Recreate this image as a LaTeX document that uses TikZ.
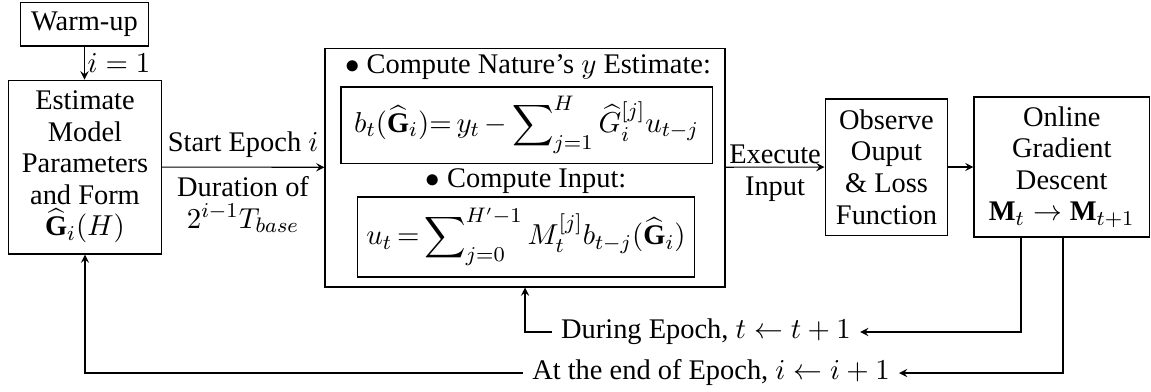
\documentclass[tikz,border=0pt]{standalone}
\usepackage{fontspec}
\setmainfont{Liberation Serif}
\usepackage{amsmath}
\usetikzlibrary{arrows}
\usetikzlibrary{positioning}
\usetikzlibrary{calc}
\tikzstyle{block}=[draw,align=center,inner sep=2pt]
\tikzstyle{edge} = [draw,->]
\tikzstyle{textlabel} = [align=center]

\begin{document}
\begin{tikzpicture}[x=0.38pt,y=-0.38pt,>=stealth,font=\fontsize{10.8pt}{12pt}\selectfont]
    \useasboundingbox (0,0) rectangle (1151,391);
    % main blocks
    \foreach \pos/\name/\bw/\bh/\txt in { {(84.5,24)/warm/48.3pt/16.7pt/{Warm-up}},
        {(85,167)/est/57.8pt/66.1pt/{Estimate\\Model\\Parameters\\and Form\\$\widehat{\mathbf{G}}_i(H)$}},
        {(886.5,167)/obs/46.7pt/51.7pt/{Observe\\Ouput\\\& Loss\\Function}},
        {(1061.75,167)/ogd/66.7pt/53.2pt/{Online\\Gradient\\Descent\\$\mathbf{M}_t\rightarrow\mathbf{M}_{t+1}$}}}
        \node[block,minimum width=\bw,minimum height=\bh] (\name) at \pos {\txt};

    % control block
    \node[block,minimum width=152pt,minimum height=90.8pt] (ctrl) at (525,167.5) {};
    \node[textlabel] (natlbl) at (528,67.5) {$\bullet$ Compute Nature's $y$ Estimate:};
    \node[block,minimum width=141pt,minimum height=28.9pt] (best) at (526.5,125)
        {$b_t(\widehat{\mathbf{G}}_i){=}\,y_t\,{-}\displaystyle\sum\nolimits_{j=1}^{H}\widehat{G}_i^{[j]}u_{t-j}$};
    \node[textlabel] (inlbl) at (526,181) {$\bullet$ Compute Input:};
    \node[block,minimum width=128.4pt,minimum height=30.4pt] (uin) at (526,237)
        {$u_t\,{=}\displaystyle\sum\nolimits_{j=0}^{H'-1}M_t^{[j]}b_{t-j}(\widehat{\mathbf{G}}_i)$};

    % feedback labels
    \node[textlabel] (during) at (706,332) {During Epoch, $t\leftarrow t+1$};
    \node[textlabel] (epochend) at (711,373) {At the end of Epoch, $i\leftarrow i+1$};
    \coordinate (tloop) at (1021,332);
    \coordinate (iloop) at (1063,373);

    \path[edge] (warm.south) -- node[right,inner sep=1pt] {$i=1$} (warm.south |- est.north);
    \path[edge] (est) -- node[above] {Start Epoch $i$} node[below,textlabel] {Duration of\\$2^{i-1}T_{base}$} (ctrl);
    \path[edge] (ctrl) -- node[above,inner sep=1pt] {Execute} node[below] {Input} (obs);
    \path[edge] (obs) -- (ogd);
    \path[edge] (tloop |- ogd.south) |- (during);
    \path[edge] (during) -| (ctrl.south);
    \path[edge] (iloop |- ogd.south) |- (epochend);
    \path[edge] (epochend) -| (est.south);
\end{tikzpicture}
\end{document}
